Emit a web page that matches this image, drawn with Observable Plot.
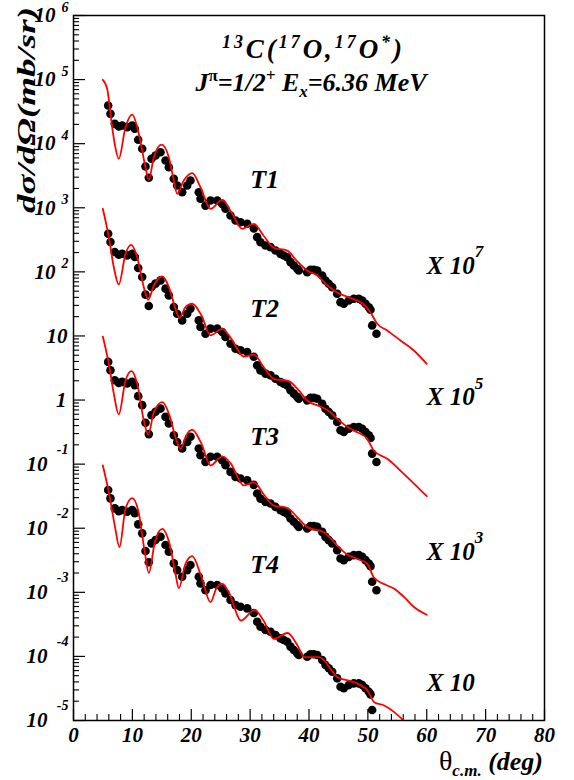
<!DOCTYPE html>
<html>
<head>
<meta charset="utf-8">
<script src="https://cdn.jsdelivr.net/npm/d3@7"></script>
<script src="https://cdn.jsdelivr.net/npm/@observablehq/plot@0.6"></script>
<style>
  html, body { margin: 0; padding: 0; background: white; }
  #chart { width: 574px; height: 780px; }
</style>
</head>
<body>
<div id="chart"></div>
<script>
// ---------- measured data (unscaled, mb/sr) ----------
const theta = [5.89, 6.28, 7.01, 7.69, 8.27, 9.12, 9.97, 10.41, 10.99, 11.67,
  12.23, 12.79, 13.25, 13.93, 14.78, 15.63, 16.19, 17.04, 17.61, 18.46,
  19.31, 19.87, 21.28, 21.57, 22.42, 23.27, 24.41, 25.26, 25.82, 26.67,
  27.52, 28.36, 29.50, 30.62, 31.20, 31.76, 32.61, 33.46, 34.31, 35.16,
  35.72, 36.30, 36.86, 37.42, 38.00, 38.27, 39.69, 40.25, 40.82, 41.39,
  42.24, 42.80, 43.36, 43.94, 44.79, 45.35, 45.91, 46.76, 47.61, 48.46,
  49.04, 49.60, 50.16, 50.45, 50.73, 51.46];
const dsig = [3.94e-3, 2.92e-3, 2.04e-3, 1.85e-3, 1.92e-3, 1.81e-3, 1.92e-3, 1.71e-3, 1.15e-3, 8.32e-4,
  4.41e-4, 2.94e-4, 5.81e-4, 6.55e-4, 7.36e-4, 5.47e-4, 4.30e-4, 2.83e-4, 2.22e-4, 1.75e-4,
  2.22e-4, 2.67e-4, 1.75e-4, 1.38e-4, 1.08e-4, 1.30e-4, 1.30e-4, 1.15e-4, 9.64e-5, 7.57e-5,
  6.32e-5, 5.96e-5, 5.62e-5, 4.75e-5, 3.48e-5, 2.90e-5, 2.58e-5, 2.43e-5, 2.15e-5, 1.91e-5,
  1.80e-5, 1.69e-5, 1.42e-5, 1.26e-5, 1.12e-5, 1.05e-5, 9.89e-6, 1.08e-5, 1.08e-5, 1.05e-5,
  8.77e-6, 7.33e-6, 6.52e-6, 5.77e-6, 4.55e-6, 3.37e-6, 3.18e-6, 3.57e-6, 3.80e-6, 3.80e-6,
  3.57e-6, 3.18e-6, 2.81e-6, 2.56e-6, 1.46e-6, 1.08e-6];

// ---------- calculations T1..T4 (unscaled, mb/sr) ----------
const thT1 = [4.98, 5.72, 6.16, 6.57, 7.05, 7.69, 8.83, 9.97, 11.09, 12.11, 12.79, 13.64, 14.95, 16.19, 17.04, 17.61,
  18.73, 20.16, 21.57, 23.27, 25.26, 26.84, 28.65, 30.62, 32.27, 34.02, 36.30, 37.88, 39.69, 41.39,
  43.14, 44.79, 47.05, 49.09, 50.45, 51.58, 53.28, 55.54, 57.80, 60.0];
const sigT1 = [9.93e-3, 7.18e-3, 3.71e-3, 1.81e-3, 9.38e-4, 5.81e-4, 1.81e-3, 2.85e-3, 1.43e-3, 4.85e-4, 2.73e-4, 6.15e-4, 9.70e-4, 6.15e-4, 2.66e-4, 1.65e-4,
  2.66e-4, 3.46e-4, 2.09e-4, 9.64e-5, 1.33e-4, 8.43e-5, 4.70e-5, 5.62e-5, 3.69e-5, 2.37e-5, 2.15e-5, 1.50e-5, 1.05e-5, 8.77e-6,
  6.12e-6, 4.76e-6, 3.91e-6, 3.21e-6, 2.32e-6, 1.55e-6, 1.22e-6, 8.49e-7, 5.93e-7, 3.67e-7];

const thT2 = [4.98, 6.0, 6.85, 7.69, 8.83, 9.80, 10.82, 11.94, 12.69, 13.64, 15.07, 16.31, 17.32, 18.0, 19.02,
  20.16, 21.74, 23.27, 25.26, 26.67, 28.93, 30.62, 32.32, 34.02, 36.57, 38.27, 39.69, 41.95, 43.65,
  44.79, 47.05, 48.19, 49.89, 51.0, 53.28, 56.10, 60.0];
const sigT2 = [9.64e-3, 3.48e-3, 1.18e-3, 6.35e-4, 1.91e-3, 2.64e-3, 1.69e-3, 5.77e-4, 3.66e-4, 6.12e-4, 8.47e-4, 5.45e-4, 2.65e-4, 1.92e-4, 2.81e-4,
  3.18e-4, 2.08e-4, 1.02e-4, 1.29e-4, 9.46e-5, 4.78e-5, 5.13e-5, 3.25e-5, 2.14e-5, 1.97e-5, 1.41e-5, 9.84e-6, 7.93e-6, 6.46e-6,
  5.09e-6, 3.56e-6, 3.15e-6, 2.48e-6, 1.63e-6, 1.21e-6, 7.06e-7, 3.16e-7];

const thT3 = [4.98, 6.0, 6.85, 7.69, 8.83, 9.85, 10.82, 11.94, 12.69, 13.64, 15.07, 16.31, 17.32, 18.17, 19.14,
  20.16, 21.74, 23.27, 25.26, 26.67, 28.93, 30.62, 32.32, 34.02, 36.30, 38.05, 39.69, 42.51, 44.79,
  46.49, 48.19, 49.89, 51.0, 53.28, 54.47, 56.17, 57.87, 60.0];
const sigT3 = [9.79e-3, 3.67e-3, 1.25e-3, 5.94e-4, 2.02e-3, 2.82e-3, 1.79e-3, 4.80e-4, 2.90e-4, 6.46e-4, 9.25e-4, 5.74e-4, 2.63e-4, 1.73e-4, 2.80e-4,
  3.44e-4, 2.07e-4, 9.53e-5, 1.32e-4, 1.04e-4, 4.65e-5, 5.22e-5, 3.36e-5, 2.26e-5, 2.08e-5, 1.47e-5, 1.04e-5, 8.67e-6, 5.37e-6,
  3.89e-6, 3.33e-6, 2.79e-6, 1.72e-6, 1.28e-6, 1.14e-6, 8.39e-7, 5.86e-7, 4.47e-7];

const thT4 = [4.98, 6.0, 7.01, 7.81, 8.83, 9.97, 10.99, 12.11, 12.79, 13.81, 15.07, 16.31, 17.32, 17.89, 19.02,
  20.16, 21.74, 23.27, 24.24, 25.26, 26.38, 28.48, 30.74, 32.27, 34.02, 36.35, 38.05, 39.19, 41.73,
  44.84, 47.68, 49.94, 51.07, 52.77, 54.47, 56.05];
const sigT4 = [9.53e-3, 3.65e-3, 1.10e-3, 5.06e-4, 2.01e-3, 2.94e-3, 1.89e-3, 4.23e-4, 2.01e-4, 6.05e-4, 9.77e-4, 5.71e-4, 1.95e-4, 1.16e-4, 2.79e-4,
  3.66e-4, 1.72e-4, 7.02e-5, 1.14e-4, 1.36e-4, 1.00e-4, 3.63e-5, 5.33e-5, 3.63e-5, 1.88e-5, 2.32e-5, 1.48e-5, 9.73e-6, 9.73e-6,
  4.74e-6, 3.95e-6, 2.94e-6, 1.93e-6, 1.71e-6, 1.35e-6, 1.0e-6];

// ---------- sets, scale factors and annotations ----------
const setNames = ["T1", "T2", "T3", "T4"];
const setScales = [1e7, 1e5, 1e3, 10];
const scaleBase = ["X 10", "X 10", "X 10", "X 10"];
const scaleExp = ["7", "5", "3", ""];
const nameLabelY = [2.7e3, 27, 0.27, 2.7e-3];   // label anchor heights (plot units)
const scaleLabelY = [125, 1.1, 4.3e-3, 3.9e-5];
const nameLabelTheta = 30;
const scaleLabelTheta = 60;

// ---------- axis ticks ----------
const xMajor = [0, 10, 20, 30, 40, 50, 60, 70, 80];
const yExp = [-5, -4, -3, -2, -1, 0, 1, 2, 3, 4, 5, 6];

const xMinor = d3.range(0, 81, 2).filter(v => v % 10 !== 0);
const yMinor = [];
for (let e = -5; e < 6; e++) for (let m = 2; m <= 9; m++) yMinor.push(m * Math.pow(10, e));

const curveT = [thT1, thT2, thT3, thT4];
const curveV = [sigT1, sigT2, sigT3, sigT4];

// markers sitting on the lower frame edge are not drawn (as in the original)
const dots = setNames.flatMap((s, k) => theta.map((t, i) => ({set: s, theta: t, y: dsig[i] * setScales[k]})))
  .filter(d => d.y >= 1.15e-5);
const curves = setNames.flatMap((s, k) => curveT[k].map((t, i) => ({set: s, theta: t, y: curveV[k][i] * setScales[k]})));
const labels = setNames.map((s, k) => ({name: s, y: nameLabelY[k], sy: scaleLabelY[k], base: scaleBase[k], exp: scaleExp[k]}));

const W = 574, H = 780, mL = 73, mR = 30, mT = 15, mB = 60;
const fw = W - mL - mR, fh = H - mT - mB;
const font = "'Liberation Serif', 'Times New Roman', serif";
const txt = {fontFamily: font, fontWeight: "bold", fontStyle: "italic", fill: "black"};

const yTicks = yExp.map(e => ({v: Math.pow(10, e), e}));

const chart = Plot.plot({
  width: W, height: H,
  marginLeft: mL, marginRight: mR, marginTop: mT, marginBottom: mB,
  style: {background: "white", fontFamily: font, color: "black", overflow: "visible"},
  x: {domain: [0, 80], axis: null},
  y: {type: "log", domain: [1e-5, 1e6], axis: null},
  marks: [
    // ticks (inward, ROOT style)
    Plot.tickY(yMinor, {y: d => d, insetRight: fw - 6, stroke: "black", strokeWidth: 1.1}),
    Plot.tickY(yTicks, {y: "v", insetRight: fw - 12, stroke: "black", strokeWidth: 1.2}),
    Plot.tickX(xMinor, {x: d => d, insetTop: fh - 6, stroke: "black", strokeWidth: 1.1}),
    Plot.tickX(xMajor, {x: d => d, insetTop: fh - 11, stroke: "black", strokeWidth: 1.2}),
    // data
    Plot.dot(dots, {x: "theta", y: "y", r: 4.3, fill: "black", stroke: "none"}),
    Plot.line(curves, {x: "theta", y: "y", z: "set", stroke: "#ff0000", strokeWidth: 1.8, curve: "monotone-x", clip: true}),
    Plot.frame({stroke: "black", strokeWidth: 1.5}),
    // x tick labels
    Plot.text(xMajor, {x: d => d, text: d => String(d), frameAnchor: "bottom", lineAnchor: "top", dy: 7, fontSize: 21, ...txt}),
    // y tick labels
    Plot.text(yTicks.filter(d => d.e >= 2), {y: "v", text: () => "10", frameAnchor: "left", textAnchor: "end", dx: -18, fontSize: 21, ...txt}),
    Plot.text(yTicks.filter(d => d.e >= 2), {y: "v", text: d => String(d.e), frameAnchor: "left", textAnchor: "end", dx: -5, dy: -8, fontSize: 14, ...txt}),
    Plot.text(yTicks.filter(d => d.e < 0), {y: "v", text: () => "10", frameAnchor: "left", textAnchor: "end", dx: -26, fontSize: 21, ...txt}),
    Plot.text(yTicks.filter(d => d.e < 0), {y: "v", text: d => String(d.e), frameAnchor: "left", textAnchor: "end", dx: -5, dy: -15, fontSize: 14, ...txt}),
    Plot.text(yTicks.filter(d => d.e === 0), {y: "v", text: () => "1", frameAnchor: "left", textAnchor: "end", dx: -7, fontSize: 21, ...txt}),
    Plot.text(yTicks.filter(d => d.e === 1), {y: "v", text: () => "10", frameAnchor: "left", textAnchor: "end", dx: -6, fontSize: 21, ...txt}),
    // set labels
    Plot.text(labels, {x: () => nameLabelTheta, y: "y", text: "name", textAnchor: "start", fontSize: 26, ...txt}),
    Plot.text(labels, {x: () => scaleLabelTheta, y: "sy", text: "base", textAnchor: "start", fontSize: 25, ...txt}),
    Plot.text(labels, {x: () => scaleLabelTheta, y: "sy", text: "exp", textAnchor: "start", dx: 48, dy: -14, fontSize: 17, ...txt})
  ]
});

// titles with super/subscripts
const svg = d3.select(chart);
const tg = svg.append("g").attr("font-family", font).attr("font-weight", "bold").attr("font-style", "italic").attr("fill", "black");

const t1 = tg.append("text").attr("x", 312).attr("y", 58).attr("text-anchor", "middle").attr("font-size", 27)
  .attr("textLength", 180).attr("lengthAdjust", "spacing");
[["13", true], ["C(", false], ["17", true], ["O,", false], ["17", true], ["O", false], ["*", true], [")", false]].forEach(([s, sup], i) => {
  t1.append("tspan").attr("font-size", sup ? 18 : null).attr("dy", sup ? -10 : (i > 0 ? 10 : 0)).text(s);
});

const t2 = tg.append("text").attr("x", 311).attr("y", 91).attr("text-anchor", "middle").attr("font-size", 26);
t2.append("tspan").text("J");
t2.append("tspan").attr("font-size", 17).attr("dy", -10).attr("font-style", "normal").text("π");
t2.append("tspan").attr("dy", 10).text("=1/2");
t2.append("tspan").attr("font-size", 17).attr("dy", -10).text("+");
t2.append("tspan").attr("dy", 10).text(" E");
t2.append("tspan").attr("font-size", 17).attr("dy", 6).text("x");
t2.append("tspan").attr("dy", -6).text("=6.36 MeV");

const xt = tg.append("text").attr("x", 543).attr("y", 770).attr("text-anchor", "end").attr("font-size", 26);
xt.append("tspan").attr("font-style", "normal").attr("font-weight", "normal").attr("font-size", 28).text("θ");
xt.append("tspan").attr("font-size", 17).attr("dy", 6).text("c.m.");
xt.append("tspan").attr("dy", -6).text(" (deg)");

tg.append("text").attr("transform", "translate(35,7) rotate(-90)").attr("text-anchor", "end")
  .attr("font-size", 26).attr("textLength", 206).attr("lengthAdjust", "spacingAndGlyphs")
  .text("dσ/dΩ(mb/sr)");

document.getElementById("chart").appendChild(chart);
</script>
</body>
</html>
